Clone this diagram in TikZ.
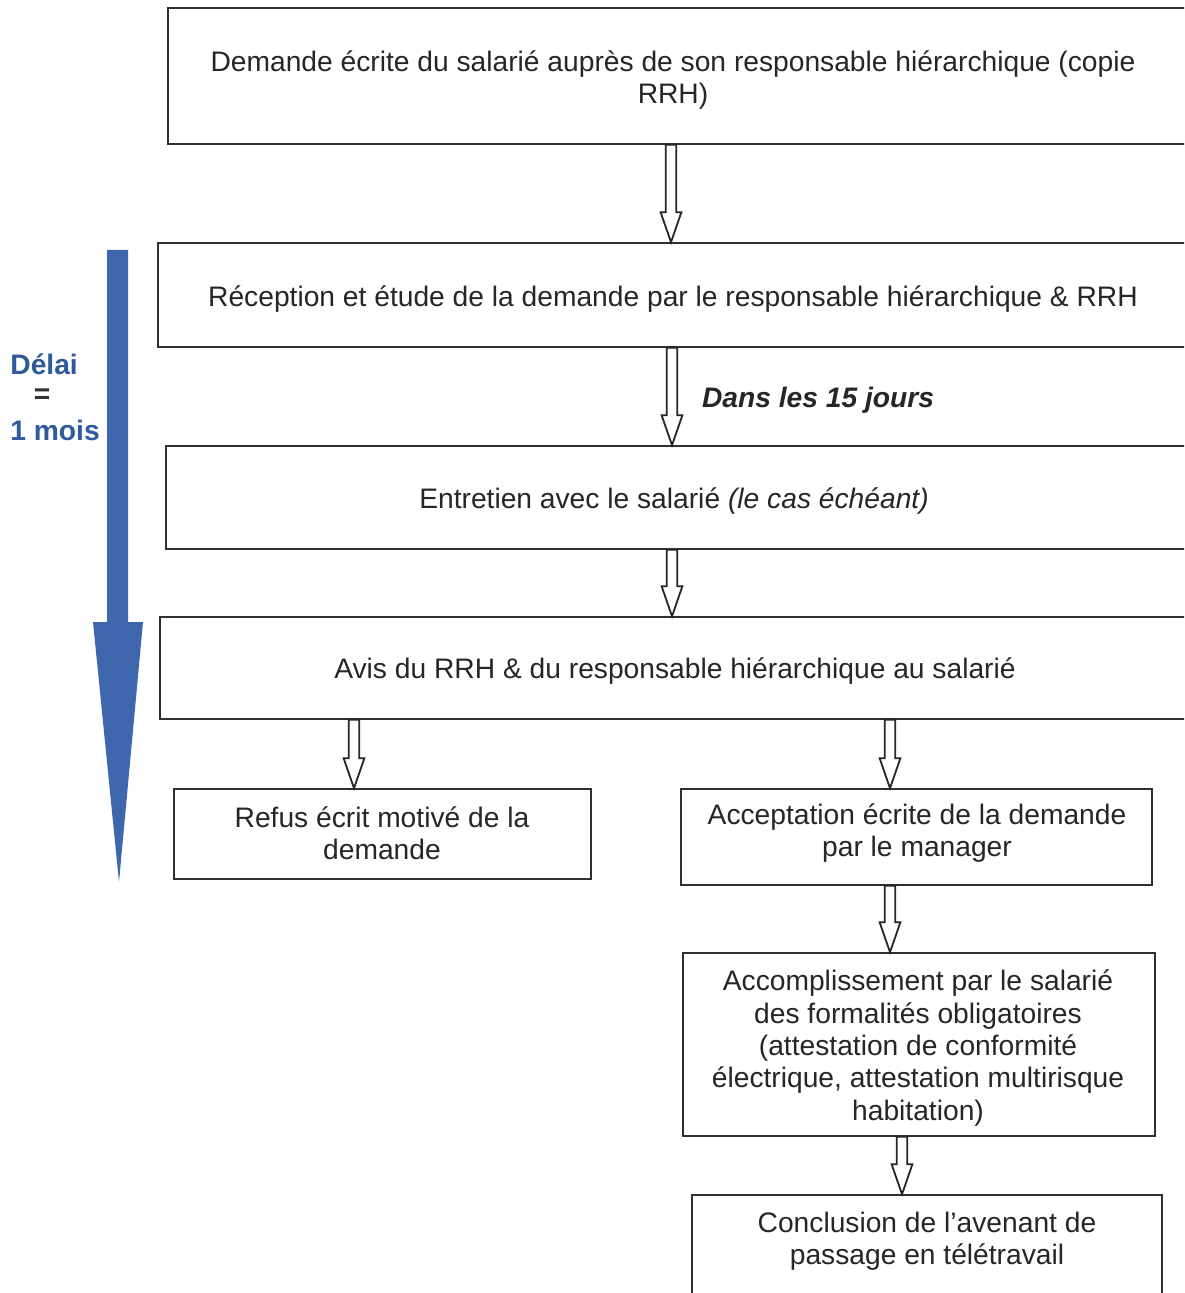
\documentclass[tikz,border=0pt]{standalone}
\usepackage{fontspec}
\setmainfont{Liberation Sans}
\usetikzlibrary{fit,calc}
\definecolor{lineg}{HTML}{303030}
\definecolor{delaiblue}{HTML}{2F5B9C}
\definecolor{arrowblue}{HTML}{3F67AD}
\tikzset{
 box/.style={draw=lineg, line width=0.8pt, inner sep=0pt},
 txt/.style={align=center, font=\fontsize{14.1}{16.2}\selectfont, text=black!85, inner sep=0pt},
 harrowstyle/.style={draw=black!85, fill=white, line width=0.9pt, line join=miter},
 delai/.style={font=\fontsize{14.1}{16}\selectfont\bfseries, text=delaiblue, inner sep=0pt},
}
\newcommand\harrow[2]{\draw[harrowstyle] let \p1=(#1), \p2=(#2) in (\x1-2.6pt,\y1) -- (\x1+2.6pt,\y1) -- (\x1+2.6pt,\y2+15pt) -- (\x1+5.2pt,\y2+15pt) -- (\x1,\y2) -- (\x1-5.2pt,\y2+15pt) -- (\x1-2.6pt,\y2+15pt) -- cycle;}
\begin{document}
\begin{tikzpicture}[x=0.5pt,y=-0.5pt]
\useasboundingbox (0,0) rectangle (1184,1293);
\clip (0,0) rectangle (1184,1293);
\fill[white] (0,0) rectangle (1184,1293);
% boxes
\node[box, fit={(168,8) (1210,144)}] (b1) {};
\node[box, fit={(158,243) (1210,347)}] (b2) {};
\node[box, fit={(166,446) (1210,549)}] (b3) {};
\node[box, fit={(160,617) (1210,719)}] (b4) {};
\node[box, fit={(174,789) (591,879)}] (refus) {};
\node[box, fit={(681,789) (1152,885)}] (acc) {};
\node[box, fit={(683,953) (1155,1136)}] (accomp) {};
\node[box, fit={(692,1195) (1162,1310)}] (concl) {};
% texts
\node[txt] (t1) at (673,80) {Demande écrite du salarié auprès de son responsable hiérarchique (copie\\RRH)};
\node[txt] (t2) at (673,299) {Réception et étude de la demande par le responsable hiérarchique \& RRH};
\node[txt] (t3) at (674,501) {Entretien avec le salarié \textit{(le cas échéant)}};
\node[txt] (t4) at (675,671) {Avis du RRH \& du responsable hiérarchique au salarié};
\node[txt] (t5) at (382,833) {Refus écrit motivé de la\\demande};
\node[txt] (t6) at (917,833) {Acceptation écrite de la demande\\par le manager};
\node[txt] (t7) at (918,1048) {Accomplissement par le salarié\\des formalités obligatoires\\(attestation de conformité\\électrique, attestation multirisque\\habitation)};
\node[txt] (t8) at (927,1241) {Conclusion de l’avenant de\\passage en télétravail};
\node[txt, font=\fontsize{14.1}{16}\selectfont\bfseries\itshape] (dans) at (818,400) {Dans les 15 jours};
% hollow arrows
\harrow{671,0 |- b1.south}{671,0 |- b2.north}
\harrow{672,0 |- b2.south}{672,0 |- b3.north}
\harrow{672,0 |- b3.south}{672,0 |- b4.north}
\harrow{354,0 |- b4.south}{354,0 |- refus.north}
\harrow{890,0 |- b4.south}{890,0 |- acc.north}
\harrow{890,0 |- acc.south}{890,0 |- accomp.north}
\harrow{902,0 |- accomp.south}{902,0 |- concl.north}
% big blue arrow
\fill[arrowblue] (107,250) -- (128,250) -- (128,622) -- (143,622) -- (119,882) -- (93,622) -- (107,622) -- cycle;
\node[delai, anchor=west] (d1) at (10,364) {Délai};
\node[delai, text=black!80] (d2) at (42,396) {=};
\node[delai, anchor=west] (d3) at (10,430) {1 mois};
\end{tikzpicture}
\end{document}
